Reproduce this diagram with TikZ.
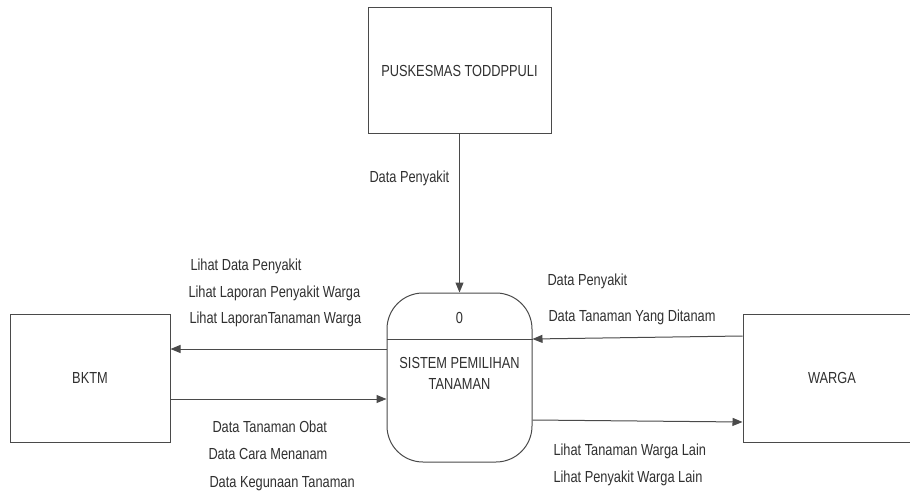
\documentclass[tikz,border=0pt]{standalone}
\usepackage{fontspec}
\setmainfont{Liberation Sans}[FakeStretch=0.8]
\usetikzlibrary{arrows.meta}
\definecolor{linec}{HTML}{4A4A4A}
\definecolor{txt}{HTML}{303030}
\begin{document}
\begin{tikzpicture}[x=1pt,y=-1pt,line width=1pt,
  ent/.style={draw=linec, rectangle, inner sep=0pt, font=\fontsize{16}{19}\selectfont, text=txt},
  lbl/.style={anchor=base west, inner sep=0pt, font=\fontsize{16}{19}\selectfont, text=txt},
  flow/.style={draw=linec, -{Triangle[length=10pt,width=8pt]}}]
\useasboundingbox (0,0) rectangle (910,492);
\clip (0,0) rectangle (910,492);
\fill[white] (0,0) rectangle (910,492);
% entities
\node[ent, minimum width=183pt, minimum height=126pt] (pusk) at (459.5,71) {PUSKESMAS TODDPPULI};
\node[ent, minimum width=160pt, minimum height=128pt] (bktm) at (90,378) {BKTM};
\node[ent, minimum width=178pt, minimum height=128pt] (warga) at (832,378) {WARGA};
% process
\node[draw=linec, rectangle, rounded corners=36pt, minimum width=145pt, minimum height=169pt, inner sep=0pt] (proc) at (459.5,377.5) {};
\draw[draw=linec] ([yshift=38.5pt]proc.west) -- ([yshift=38.5pt]proc.east);
\node[lbl, anchor=center] (pnum) at (459.5,318) {0};
\node[inner sep=0pt, align=center, font=\fontsize{16}{21}\selectfont, text=txt] (pname) at (459.5,373) {SISTEM PEMILIHAN\\TANAMAN};
% flows
\draw[flow] (pusk.south) -- (proc.north);
\draw[flow] ([yshift=28.5pt]proc.west) -- ([yshift=29pt]bktm.east);
\draw[flow] ([yshift=-21pt]bktm.east) -- ([yshift=-21.5pt]proc.west);
\draw[flow] ([yshift=42pt]warga.west) -- ([yshift=38.5pt]proc.east);
\draw[flow] ([yshift=-42.5pt]proc.east) -- ([yshift=-44pt]warga.west);
% labels
\node[lbl] (l1) at (369,182) {Data Penyakit};
\node[lbl] (l2) at (190,270) {Lihat Data Penyakit};
\node[lbl] (l3) at (188,297) {Lihat Laporan Penyakit Warga};
\node[lbl] (l4) at (189,323) {Lihat LaporanTanaman Warga};
\node[lbl] (l5) at (212,432) {Data Tanaman Obat};
\node[lbl] (l6) at (208,459) {Data Cara Menanam};
\node[lbl] (l7) at (209,487) {Data Kegunaan Tanaman};
\node[lbl] (l8) at (547,285) {Data Penyakit};
\node[lbl] (l9) at (548,321) {Data Tanaman Yang Ditanam};
\node[lbl] (l10) at (553,455) {Lihat Tanaman Warga Lain};
\node[lbl] (l11) at (553,482) {Lihat Penyakit Warga Lain};
\end{tikzpicture}
\end{document}
